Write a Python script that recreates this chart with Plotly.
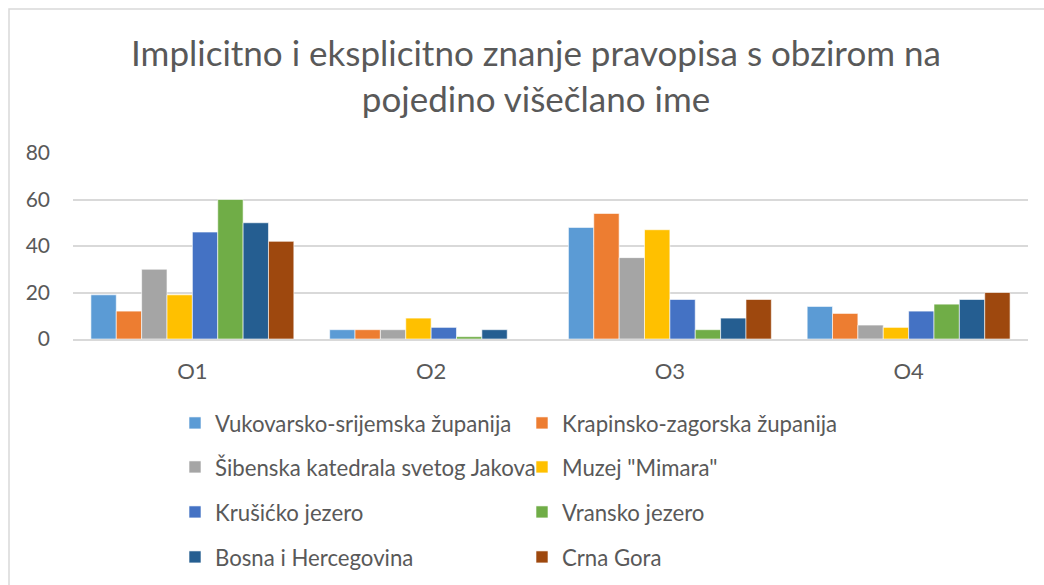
import plotly.graph_objects as go

categories = ["O1", "O2", "O3", "O4"]
series_names = [
    "Vukovarsko-srijemska županija",
    "Krapinsko-zagorska županija",
    "Šibenska katedrala svetog Jakova",
    "Muzej \"Mimara\"",
    "Krušićko jezero",
    "Vransko jezero",
    "Bosna i Hercegovina",
    "Crna Gora",
]
vukovarsko = [19, 4, 48, 14]
krapinsko = [12, 4, 54, 11]
sibenska = [30, 4, 35, 6]
mimara = [19, 9, 47, 5]
krusicko = [46, 5, 17, 12]
vransko = [60, 1, 4, 15]
bih = [50, 4, 9, 17]
crna_gora = [42, 0, 17, 20]
series_values = [vukovarsko, krapinsko, sibenska, mimara, krusicko, vransko, bih, crna_gora]
colors = ["#5B9BD5", "#ED7D31", "#A5A5A5", "#FFC000", "#4472C4", "#70AD47", "#255E91", "#9E480E"]
y_ticks = [0, 20, 40, 60, 80]

FONT = "Lato"
W, H = 1044, 585
ml, mr, mt, mb = 73, 16, 153, 246
pw, ph = W - ml - mr, H - mt - mb

fig = go.Figure()
legend_ids = ["legend", "legend2", "legend3", "legend4"]
for i, (name, vals, col) in enumerate(zip(series_names, series_values, colors)):
    fig.add_trace(go.Bar(
        x=categories, y=vals, name=name,
        marker=dict(color=col, line=dict(color="white", width=0.6)),
        legend=legend_ids[i // 2],
    ))

def px_to_paper_y(py):
    return (H - mb - py) / ph

def px_to_paper_x(px):
    return (px - ml) / pw

row_y = [424, 468, 513, 558]
legend_common = dict(
    orientation="h", xanchor="left", yanchor="middle",
    xref="container", yref="container",
    font=dict(family=FONT, size=22.2, color="#595959"),
    entrywidth=302, entrywidthmode="pixels",
    bgcolor="rgba(0,0,0,0)", itemclick=False, itemdoubleclick=False,
)
layout_legends = {}
for k, lid in enumerate(legend_ids):
    layout_legends[lid] = dict(legend_common, x=175 / W, y=1 - (row_y[k] - 1) / H)

fig.update_layout(
    width=W, height=H,
    margin=dict(l=ml, r=mr, t=mt, b=mb, autoexpand=False),
    paper_bgcolor="white", plot_bgcolor="white",
    barmode="group", bargap=0.15, bargroupgap=0,
    title=dict(
        text="Implicitno i eksplicitno znanje pravopisa s obzirom na<br>pojedino višečlano ime",
        x=536 / W, xref="container", xanchor="center",
        y=1 - 66 / H, yref="container", yanchor="middle",
        font=dict(family=FONT, size=35, color="#595959"),
    ),
    font=dict(family=FONT, color="#595959"),
    yaxis=dict(
        range=[0, 80], tickvals=y_ticks, showgrid=True, gridcolor="#D9D9D9", gridwidth=1.5,
        zeroline=False, showline=False, ticklabelstandoff=22,
        tickfont=dict(family=FONT, size=21, color="#595959"),
    ),
    xaxis=dict(
        showline=True, linecolor="#D9D9D9", linewidth=1.5, showgrid=False,
        ticklabelstandoff=12, tickfont=dict(family=FONT, size=22, color="#595959"),
    ),
    **layout_legends,
)

fig.add_shape(
    type="rect", xref="paper", yref="paper",
    x0=px_to_paper_x(9), x1=px_to_paper_x(W + 20),
    y0=px_to_paper_y(H + 20), y1=px_to_paper_y(9),
    line=dict(color="#D9D9D9", width=1.5), fillcolor="rgba(0,0,0,0)", layer="below",
)

fig.write_html(
    "out.html",
    config={"displayModeBar": False},
    post_script="document.body.style.margin='0';document.body.style.overflow='hidden';",
)
